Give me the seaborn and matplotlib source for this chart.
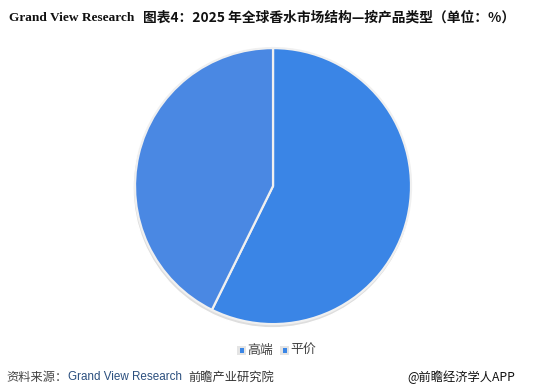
import matplotlib
matplotlib.use("Agg")
import matplotlib.pyplot as plt
import seaborn as sns
from matplotlib.patches import Rectangle

categories = ["高端", "平价"]
values = [57.3, 42.7]
colors = ["#3a85e6", "#4a88e3"]

sns.set_theme(style="white")
plt.rcParams['font.family'] = ['Noto Sans CJK SC', 'DejaVu Sans']

fig = plt.figure(figsize=(5.52, 3.90), dpi=100)
fig.patch.set_facecolor("white")

rect = [0.2446, 0.169, 0.5, 0.7077]

# shadow
sax = fig.add_axes([rect[0] - 0.001, rect[1] - 0.006, rect[2], rect[3]])
sax.pie([1], colors=["#dedede"], radius=1.01, startangle=90)
sax.set_xlim(-1, 1); sax.set_ylim(-1, 1)
sax.set_aspect("equal")
sax.axis("off")

ax = fig.add_axes(rect)
wedges, _ = ax.pie(values, colors=sns.color_palette(colors), startangle=90, counterclock=False,
                   wedgeprops=dict(edgecolor="#f0f0f0", linewidth=1.6))
ax.set_xlim(-1, 1); ax.set_ylim(-1, 1)
ax.set_aspect("equal")
ax.axis("off")

# title
fig.text(9/552, 1 - 18/390, "Grand View Research", fontsize=9.6, fontweight="bold",
         family=["Liberation Serif"], va="center", ha="left", color="#111111")
fig.text(143/552, 1 - 18/390, "图表4：2025 年全球香水市场结构—按产品类型（单位：%）", fontsize=9.9,
         fontweight="bold", family=["Noto Sans CJK SC", "DejaVu Sans"], va="center", ha="left", color="#111111")

# legend
for mx, lab in [(237, categories[0]), (280, categories[1])]:
    fig.patches.append(Rectangle((mx/552, 1 - 355/390), 9/552, 9/390, transform=fig.transFigure,
                                 facecolor="#e4e4e4", edgecolor="none"))
    fig.patches.append(Rectangle(((mx+2.5)/552, 1 - 352.5/390), 4/552, 5/390, transform=fig.transFigure,
                                 facecolor="#3a86e6", edgecolor="none"))
    fig.text((mx+10)/552, 1 - 350/390, lab, fontsize=9.3, va="center", ha="left", color="#444444")

# footer
fy = 1 - 377/390
fig.text(6/552, fy, "资料来源：", fontsize=8.8, va="center", ha="left", color="#444444")
fig.text(68/552, fy, "Grand View Research", fontsize=8.4, va="center", ha="left", color="#2b4f7e",
         family=["Liberation Sans"])
fig.text(188/552, fy, "前瞻产业研究院", fontsize=8.8, va="center", ha="left", color="#333333")
fig.text(515/552, fy, "@前瞻经济学人APP", fontsize=8.8, va="center", ha="right", color="#111111")

fig.savefig("out.png", dpi=100, facecolor="white")
